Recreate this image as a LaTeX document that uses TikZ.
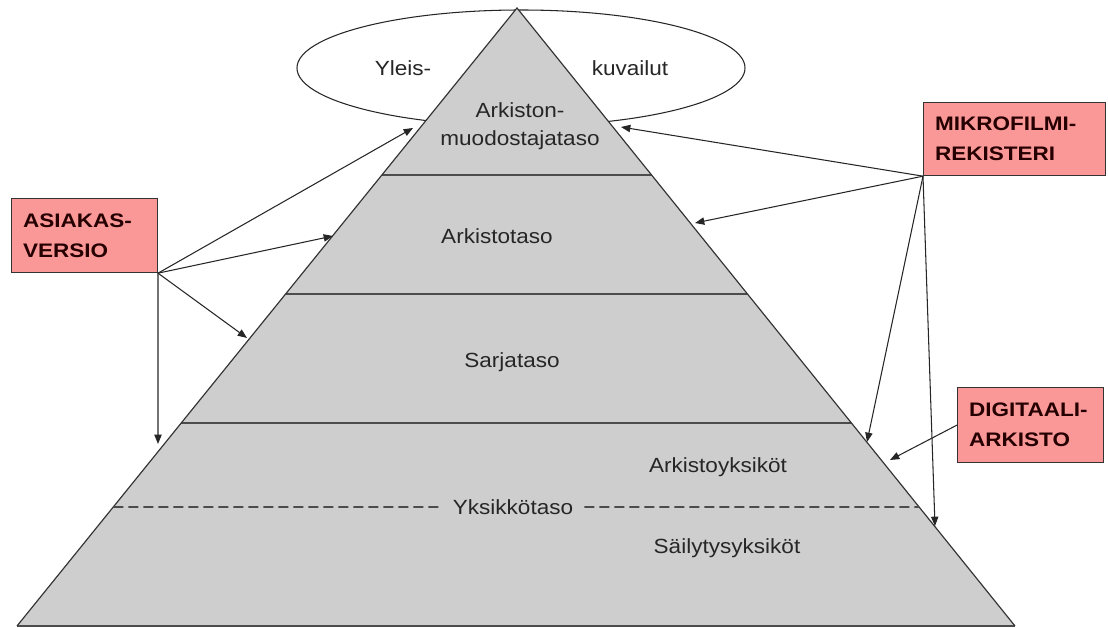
\documentclass[tikz,border=0pt]{standalone}
\usepackage{fontspec}
\setmainfont{Liberation Sans}
\usetikzlibrary{calc,arrows.meta,shapes.geometric}
\definecolor{tagpink}{RGB}{250,152,152}
\definecolor{pyrfill}{RGB}{206,206,206}
\tikzset{
  lvl/.style={font=\fontsize{17.5}{23.9}\selectfont,xscale=1.1,text=black!85,align=center,inner sep=0pt},
  tag/.style={draw=black!80,line width=1pt,fill=tagpink,font=\bfseries\fontsize{16.7}{25.6}\selectfont,xscale=1.15,text=black!85!red,align=left,anchor=north west,inner xsep=0.3cm,text width=3.2cm},
  band/.style={draw=black!70,line width=2pt},
  link/.style={-{Triangle[length=0.28cm,width=0.22cm]},draw=black!85,line width=0.9pt}
}

\begin{document}
\begin{tikzpicture}[x=0.03cm,y=-0.03cm]
   \useasboundingbox (0,0) rectangle (1108,628);
   \node[ellipse,draw=black!85,line width=0.9pt,fill=white,minimum width=13.44cm,minimum height=3.48cm,inner sep=0pt] (desc) at (521,68) {};
   \node[lvl] (yleis) at (403,68) {Yleis-};
   \node[lvl] (kuv) at (630,68) {kuvailut};
   \coordinate (top) at (517,8);
   \coordinate (bl) at (17,626);
   \coordinate (br) at (1015,626);
   \fill[pyrfill] (top) -- (bl) -- (br) -- cycle;
   \draw[band] ($(top)!.2702!(bl)$) -- ($(top)!.2702!(br)$);
   \draw[band] ($(top)!.4628!(bl)$) -- ($(top)!.4628!(br)$);
   \draw[band] ($(top)!.6715!(bl)$) -- ($(top)!.6715!(br)$);
   \draw[band] (bl) -- (br);
   \draw[black!80,line width=1pt] (bl) -- (top) -- (br);
   \node[lvl] (amt) at (520,126) {Arkiston-\\muodostajataso};
   \node[lvl] (at) at (497,236) {Arkistotaso};
   \node[lvl] (st) at (512,362) {Sarjataso};
   \node[lvl] (ay) at (718,467) {Arkistoyksiköt};
   \node[lvl,inner xsep=0.3cm] (yt) at (513,507) {Yksikkötaso};
   \node[lvl] (sy) at (727,548) {Säilytysyksiköt};
   \coordinate (dl) at ($(top)!.8074!(bl)$);
   \coordinate (dr) at ($(top)!.8074!(br)$);
   \draw[black!70,line width=1.5pt,dash pattern=on 0.3cm off 0.15cm] (dl) -- (yt.west) (yt.east) -- (dr);
   \node[tag,minimum height=2.22cm] (asiakas) at (11,198) {ASIAKAS-\\VERSIO};
   \node[tag,minimum height=2.19cm,text width=4.15cm] (mikro) at (923,102) {MIKROFILMI-\\REKISTERI};
   \node[tag,minimum height=2.25cm] (digi) at (957,387) {DIGITAALI-\\ARKISTO};
   \coordinate (a1) at (413,128);
   \coordinate (a2) at (333,236);
   \coordinate (a3) at (247,338);
   \coordinate (a4) at (158,444);
   \coordinate (m1) at (621,127);
   \coordinate (m2) at (695,223);
   \coordinate (m3) at (867,442);
   \coordinate (m4) at (935,526);
   \coordinate (d1) at (890,460);
   \draw[link] (asiakas.south east) -- (a1);
   \draw[link] (asiakas.south east) -- (a2);
   \draw[link] (asiakas.south east) -- (a3);
   \draw[link] (asiakas.south east) -- (a4);
   \draw[link] (mikro.south west) -- (m1);
   \draw[link] (mikro.south west) -- (m2);
   \draw[link] (mikro.south west) -- (m3);
   \draw[link] (mikro.south west) -- (m4);
   \draw[link] (digi.west) -- (d1);
  \end{tikzpicture}
\end{document}
